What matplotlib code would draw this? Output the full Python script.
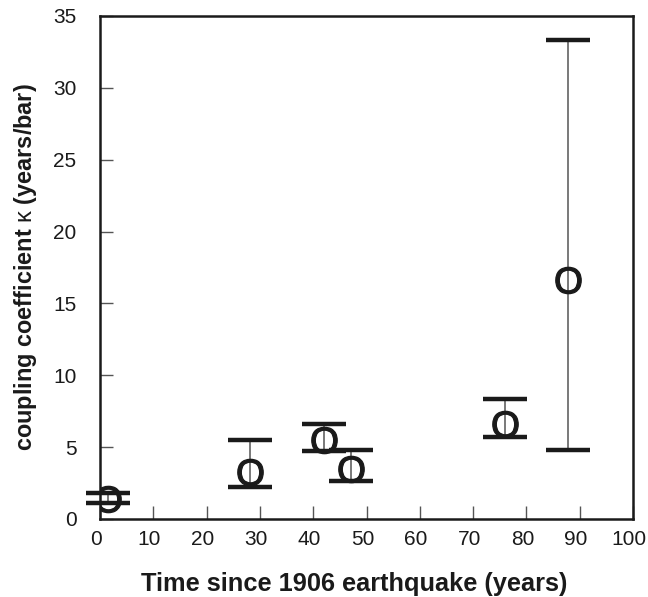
import matplotlib
matplotlib.use("Agg")
import matplotlib.pyplot as plt
from matplotlib.transforms import ScaledTranslation

plt.rcParams['font.family'] = ['Liberation Sans', 'DejaVu Sans']
plt.rcParams['mathtext.fontset'] = 'custom'
plt.rcParams['mathtext.rm'] = 'Liberation Sans'

# years since 1906, coupling coefficient and error-bar ends
years = [1.5, 28.1, 42.0, 47.0, 76.0, 87.8]
kappa = [1.4, 3.3, 5.5, 3.5, 6.6, 16.6]
kappa_low = [1.13, 2.23, 4.73, 2.64, 5.69, 4.8]
kappa_high = [1.83, 5.5, 6.6, 4.8, 8.35, 33.3]

xticks = [0, 10, 20, 30, 40, 50, 60, 70, 80, 90, 100]
yticks = [0, 5, 10, 15, 20, 25, 30, 35]

fig = plt.figure(figsize=(6.48, 5.97), dpi=100)
ax = fig.add_axes([0.1543, 0.1307, 0.8227, 0.8425])

err_lo = [k - lo for k, lo in zip(kappa, kappa_low)]
err_hi = [hi - k for k, hi in zip(kappa, kappa_high)]
eb = ax.errorbar(years, kappa, yerr=[err_lo, err_hi], fmt='none',
                 ecolor='#555555', elinewidth=1.1, capsize=16, capthick=3.2)
for cap in eb[1]:
    cap.set_markeredgecolor('#1a1a1a')
    cap.set_clip_on(False)

ax.plot(years, kappa, linestyle='none', marker=r'$\mathrm{O}$',
        markersize=19, color='#1a1a1a', markeredgewidth=0.9, zorder=5)

ax.set_xlim(0, 100)
ax.set_ylim(0, 35)
ax.set_xticks(xticks)
ax.set_yticks(yticks)
ax.tick_params(direction='in', length=9.5, width=1, color='#555555',
               labelsize=15, labelcolor='#1a1a1a')
ax.tick_params(axis='x', pad=8)
ax.tick_params(axis='y', pad=17)
# tick labels sit a little left of their ticks in the original
shift = ScaledTranslation(-4 / 100, 0, fig.dpi_scale_trans)
for lab in ax.get_xticklabels():
    lab.set_transform(lab.get_transform() + shift)
for side in ['left', 'right', 'top', 'bottom']:
    ax.spines[side].set_linewidth(1.8)
    ax.spines[side].set_color('#1a1a1a')

ax.set_xlabel('Time since 1906 earthquake (years)', fontsize=18.3,
              fontweight='bold', labelpad=12, color='#1a1a1a')
ax.xaxis.set_label_coords(0.476, -0.105)
ax.set_ylabel(r'coupling coefficient $\mathrm{\kappa}$ (years/bar)', fontsize=16.9,
              fontweight='bold', labelpad=10, color='#1a1a1a')

fig.savefig('out.png', dpi=100)
